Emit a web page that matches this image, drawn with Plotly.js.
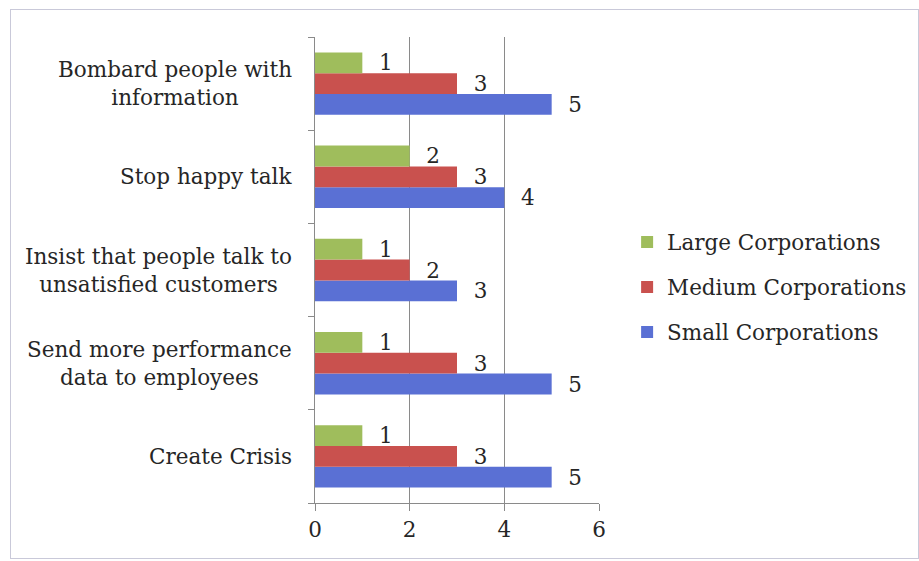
<!DOCTYPE html>
<html>
<head>
<meta charset="utf-8">
<script src="https://cdn.plot.ly/plotly-3.0.1.min.js"></script>
<style>
  html, body { margin: 0; padding: 0; background: #ffffff; }
  #wrap { position: relative; width: 919px; height: 561px; overflow: hidden; }
  #chart { position: absolute; left: 0; top: 0; width: 919px; height: 561px; }
  #frame {
    position: absolute; left: 10px; top: 9px; width: 907px; height: 548px;
    border: 1px solid #c9c9d9; pointer-events: none; z-index: 5;
  }
</style>
</head>
<body>
<div id="wrap">
  <div id="chart"></div>
  <div id="frame"></div>
</div>
<script>
// Categories listed bottom to top (category axes grow upward)
const categories = [
  "Create Crisis",
  "Send more performance<br>data to employees",
  "Insist that people talk to<br>unsatisfied customers",
  "Stop happy talk",
  "Bombard people with<br>information"
];

const smallCorp  = [5, 5, 3, 4, 5];
const mediumCorp = [3, 3, 2, 3, 3];
const largeCorp  = [1, 1, 1, 2, 1];

const seriesNames  = ["Small Corporations", "Medium Corporations", "Large Corporations"];
const seriesColors = ["#5a70d4", "#c9514e", "#9fbd5c"];
const seriesValues = [smallCorp, mediumCorp, largeCorp];
const legendRanks  = [3, 2, 1];

const xTicks = [0, 2, 4, 6];

const FONT = "DejaVu Serif, serif";
const FSIZE = 21.5;
const TEXT_COLOR = "#262626";
const AXIS_COLOR = "#8a8a8a";

const traces = seriesValues.map((vals, i) => ({
  type: "bar",
  orientation: "h",
  name: seriesNames[i],
  legendgroup: "g" + i,
  legendrank: legendRanks[i],
  y: categories,
  x: vals,
  text: vals.map(String),
  texttemplate: "\u00a0\u00a0%{text}",
  textposition: "outside",
  constraintext: "none",
  cliponaxis: false,
  textfont: { family: FONT, size: FSIZE, color: TEXT_COLOR },
  marker: { color: seriesColors[i], line: { width: 0 } },
  hoverinfo: "x+name"
}));

// Category names drawn beside the axis, centred line by line
const categoryLabels = categories.map(c => ({
  x: 0, xref: "paper", xanchor: "right", xshift: -21,
  y: c, yref: "y", yanchor: "middle",
  text: c, align: "center", showarrow: false,
  font: { family: FONT, size: FSIZE, color: TEXT_COLOR }
}));

const layout = {
  width: 919,
  height: 561,
  margin: { l: 315, r: 320, t: 37, b: 58, pad: 0, autoexpand: false },
  paper_bgcolor: "rgba(0,0,0,0)",
  plot_bgcolor: "rgba(0,0,0,0)",
  barmode: "group",
  bargap: 0.33,
  bargroupgap: 0,
  showlegend: true,
  legend: {
    x: 1.099, xanchor: "left",
    y: 0.4635, yanchor: "middle",
    traceorder: "grouped",
    tracegroupgap: 14,
    font: { family: FONT, size: FSIZE, color: TEXT_COLOR },
    bgcolor: "rgba(0,0,0,0)"
  },
  xaxis: {
    range: [0, 6],
    tickvals: xTicks,
    ticktext: xTicks.map(String),
    showgrid: true,
    gridcolor: AXIS_COLOR,
    gridwidth: 1,
    zeroline: false,
    showline: true,
    linecolor: AXIS_COLOR,
    linewidth: 1,
    ticks: "outside",
    ticklen: 7,
    tickcolor: AXIS_COLOR,
    tickfont: { family: FONT, size: FSIZE, color: TEXT_COLOR },
    fixedrange: true
  },
  yaxis: {
    type: "category",
    categoryorder: "array",
    categoryarray: categories,
    tickson: "boundaries",
    ticks: "outside",
    ticklen: 6,
    tickcolor: AXIS_COLOR,
    showticklabels: false,
    showgrid: false,
    zeroline: false,
    showline: true,
    linecolor: AXIS_COLOR,
    linewidth: 1,
    fixedrange: true
  },
  annotations: categoryLabels
};

Plotly.newPlot("chart", traces, layout, { displayModeBar: false, staticPlot: true });
</script>
</body>
</html>
